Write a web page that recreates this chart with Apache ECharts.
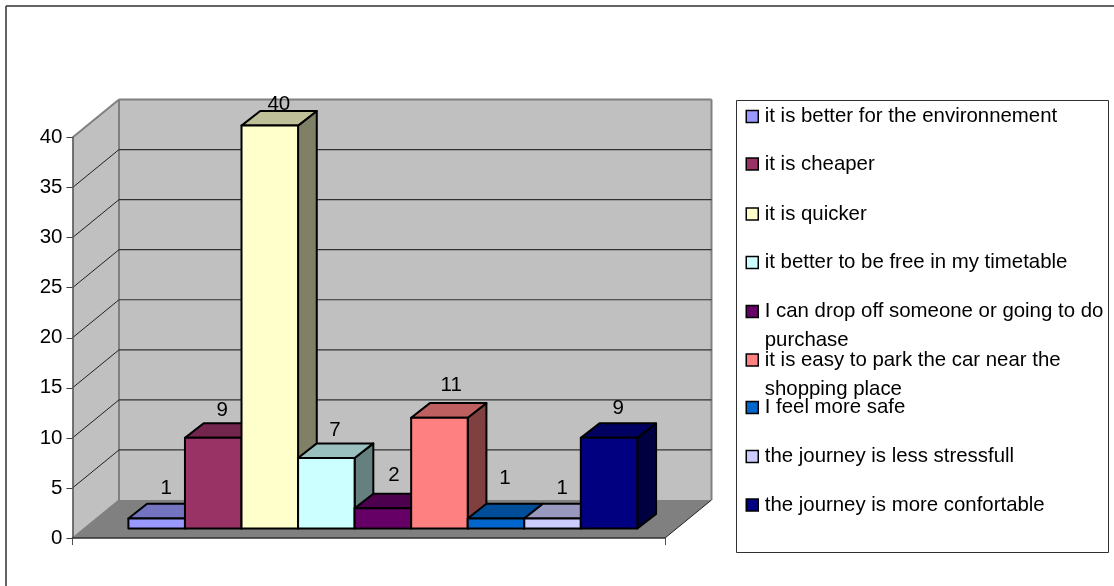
<!DOCTYPE html>
<html><head><meta charset="utf-8">
<style>html,body{margin:0;padding:0;background:#fff}#c{width:1114px;height:586px}</style>
<script src="https://cdn.jsdelivr.net/npm/echarts@6/dist/echarts.min.js"></script>
</head><body><div id="c"></div>
<script>
// ---- data ----
const reasons = [
  'it is better for the environnement',
  'it is cheaper',
  'it is quicker',
  'it better to be free in my timetable',
  'I can drop off someone or going to do\npurchase',
  'it is easy to park the car near the\nshopping place',
  'I feel more safe',
  'the journey is less stressfull',
  'the journey is more confortable'
];
const answers = [1, 9, 40, 7, 2, 11, 1, 1, 9];
const valueTicks = [0, 5, 10, 15, 20, 25, 30, 35, 40];
// ---- style ----
const barColors = ['#9999FF','#993366','#FFFFCC','#CCFFFF','#660066','#FF8080','#0066CC','#CCCCFF','#000080'];
const labelLift = [30, 28, 21, 28, 33, 32, 40, 30, 30];
const labelShift = [9.5, 9, 9, 8.5, 11, 11.7, 9, 9.7, 9];
const legendCentres = [116.5, 164, 214, 262.5, 311.5, 360, 407.5, 456.5, 505];
const FONT = '"Liberation Sans", Arial, sans-serif';
const DX = 46.5, DY = 38;           // depth of the floor
const BAR_DX = 18.7, BAR_DY = 14.6; // depth of a bar
const FLOOR_T = 0.25;               // how far back the bars stand
const BAR_SCALE = 1.006;
const X_MIN = -0.783, X_MAX = 9.694;

function shade(hex, k) {
  const n = parseInt(hex.slice(1), 16);
  const c = s => Math.round(((n >> s) & 255) * k);
  return 'rgb(' + c(16) + ',' + c(8) + ',' + c(0) + ')';
}

function renderWalls(params, api) {
  const o = api.coord([X_MIN, 0]), e = api.coord([X_MAX, 0]), t = api.coord([X_MIN, 40]);
  const poly = (pts, fill) => ({type:'polygon', shape:{points:pts}, style:{fill:fill, stroke:'none'}});
  return {type:'group', children:[
    poly([[o[0],o[1]],[o[0]+DX,o[1]-DY],[o[0]+DX,t[1]-DY],[t[0],t[1]]], '#C0C0C0'),
    poly([[o[0]+DX,o[1]-DY],[e[0]+DX,e[1]-DY],[e[0]+DX,t[1]-DY],[o[0]+DX,t[1]-DY]], '#C0C0C0'),
    poly([[o[0],o[1]],[o[0]+DX,o[1]-DY],[e[0]+DX,e[1]-DY],[e[0],e[1]]], '#808080')
  ]};
}

function renderGrid(params, api) {
  const v = api.value(0);
  const a = api.coord([X_MIN, v]), e = api.coord([X_MAX, v]);
  const top = v === 40, floor = v === 0;
  const back = {type:'polyline', shape:{points:[[a[0]+DX,a[1]-DY],[e[0]+DX,e[1]-DY]]},
    style:{fill:'none', stroke: top ? '#808080' : '#303030', lineWidth: top ? 2 : 1.2}};
  const side = {type:'polyline', shape:{points:[[a[0],a[1]],[a[0]+DX,a[1]-DY]]},
    style:{fill:'none', stroke: top ? '#808080' : '#202020', lineWidth: top ? 2 : 1}};
  if (floor) {
    return {type:'group', children:[
      {type:'polyline', shape:{points:[[a[0]+DX,a[1]-DY],[a[0]+DX,api.coord([X_MIN,40])[1]-DY]]},
       style:{fill:'none', stroke:'#808080', lineWidth:2}},
      {type:'polyline', shape:{points:[[e[0]+DX,e[1]-DY],[e[0]+DX,api.coord([X_MAX,40])[1]-DY]]},
       style:{fill:'none', stroke:'#808080', lineWidth:2}},
      {type:'polyline', shape:{points:[[a[0],a[1]],[a[0]+DX,a[1]-DY]]},
       style:{fill:'none', stroke:'#808080', lineWidth:1.2}},
      {type:'polyline', shape:{points:[[e[0],e[1]],[e[0]+DX,e[1]-DY]]},
       style:{fill:'none', stroke:'#202020', lineWidth:1}}
    ]};
  }
  return {type:'group', children:[back, side]};
}

function renderBar(i) {
  return function (params, api) {
    const x0 = api.value(0), v = api.value(1);
    const zero = api.coord([x0, 0]);
    const left = zero[0] + DX * FLOOR_T;
    const right = api.coord([x0 + 1, 0])[0] + DX * FLOOR_T;
    const bottom = zero[1] - DY * FLOOR_T;
    const top = bottom - (zero[1] - api.coord([x0, v])[1]) * BAR_SCALE;
    const c = barColors[i];
    const st = fill => ({fill:fill, stroke:'#000', lineWidth:2, lineJoin:'round'});
    return {type:'group', children:[
      {type:'polygon', shape:{points:[[right,top],[right+BAR_DX,top-BAR_DY],[right+BAR_DX,bottom-BAR_DY],[right,bottom]]}, style:st(shade(c,0.5))},
      {type:'polygon', shape:{points:[[left,top],[left+BAR_DX,top-BAR_DY],[right+BAR_DX,top-BAR_DY],[right,top]]}, style:st(shade(c,0.75))},
      {type:'polygon', shape:{points:[[left,top],[right,top],[right,bottom],[left,bottom]]}, style:st(c)},
      {type:'text', style:{text:String(v), x:(left+right)/2+labelShift[i], y:top-labelLift[i],
        fill:'#000', font:'20.5px '+FONT, align:'center', verticalAlign:'middle'}}
    ]};
  };
}

const series = [
  {type:'custom', name:'walls', xAxisIndex:1, yAxisIndex:0, silent:true, z:1, clip:false,
   data:[[0]], renderItem:renderWalls, encode:{x:0}},
  {type:'custom', name:'gridlines', xAxisIndex:1, yAxisIndex:0, silent:true, z:1, clip:false,
   data:valueTicks.map(v => [v]), renderItem:renderGrid, encode:{y:0}}
];
reasons.forEach((name, i) => {
  series.push({type:'custom', name:name, xAxisIndex:1, yAxisIndex:0, silent:true, z:2+i*0.01, clip:false,
    itemStyle:{color:barColors[i]}, data:[[i, answers[i]]], renderItem:renderBar(i), encode:{x:0, y:1}});
});

const legends = reasons.map((name, i) => {
  const lines = name.split('\n').length;
  return {
    show:true, orient:'vertical', left:745.5, padding:0, selectedMode:false,
    top: legendCentres[i] - (lines > 1 ? 43.5 : 14.5),
    data:[name], itemWidth:12, itemHeight:12, itemGap:0, icon:'rect',
    itemStyle:{color:barColors[i], borderColor:'#000', borderWidth:1.5},
    textStyle:{color:'#000', fontSize:20.4, fontFamily:FONT, lineHeight:29, padding:[0,0,0,1.5]},
    formatter:n => lines > 1 ? ' \n' + n : n
  };
});

const chart = echarts.init(document.getElementById('c'), null, {renderer:'canvas'});
chart.setOption({
  animation:false,
  backgroundColor:'#fff',
  grid:{left:72.5, top:137.5, width:592.5, height:400.5},
  xAxis:[
    {type:'category', data:[''], z:5, axisLine:{show:true, onZero:false, lineStyle:{color:'#303030', width:1.5}},
     axisTick:{show:true, length:7, alignWithLabel:false, lineStyle:{color:'#505050'}}, axisLabel:{show:false}, splitLine:{show:false}},
    {type:'value', min:X_MIN, max:X_MAX, show:false, splitLine:{show:false}}
  ],
  yAxis:[{type:'value', min:0, max:40, interval:5, z:5,
    axisLine:{show:true, onZero:false, lineStyle:{color:'#505050', width:1.5}},
    axisTick:{show:true, length:6, lineStyle:{color:'#404040'}},
    axisLabel:{color:'#000', fontSize:20.5, fontFamily:FONT, margin:10},
    splitLine:{show:false}}],
  legend:legends,
  graphic:[
    {type:'line', z:-1, silent:true, shape:{x1:6,y1:6,x2:1114,y2:6}, style:{stroke:'#303030',lineWidth:1.5}},
    {type:'line', z:-1, silent:true, shape:{x1:6,y1:6,x2:6,y2:586}, style:{stroke:'#303030',lineWidth:1.5}},
    {type:'rect', z:-1, silent:true, shape:{x:736.5,y:100.5,width:372,height:452}, style:{fill:'#fff',stroke:'#303030',lineWidth:1}}
  ],
  series:series
});
</script></body></html>
